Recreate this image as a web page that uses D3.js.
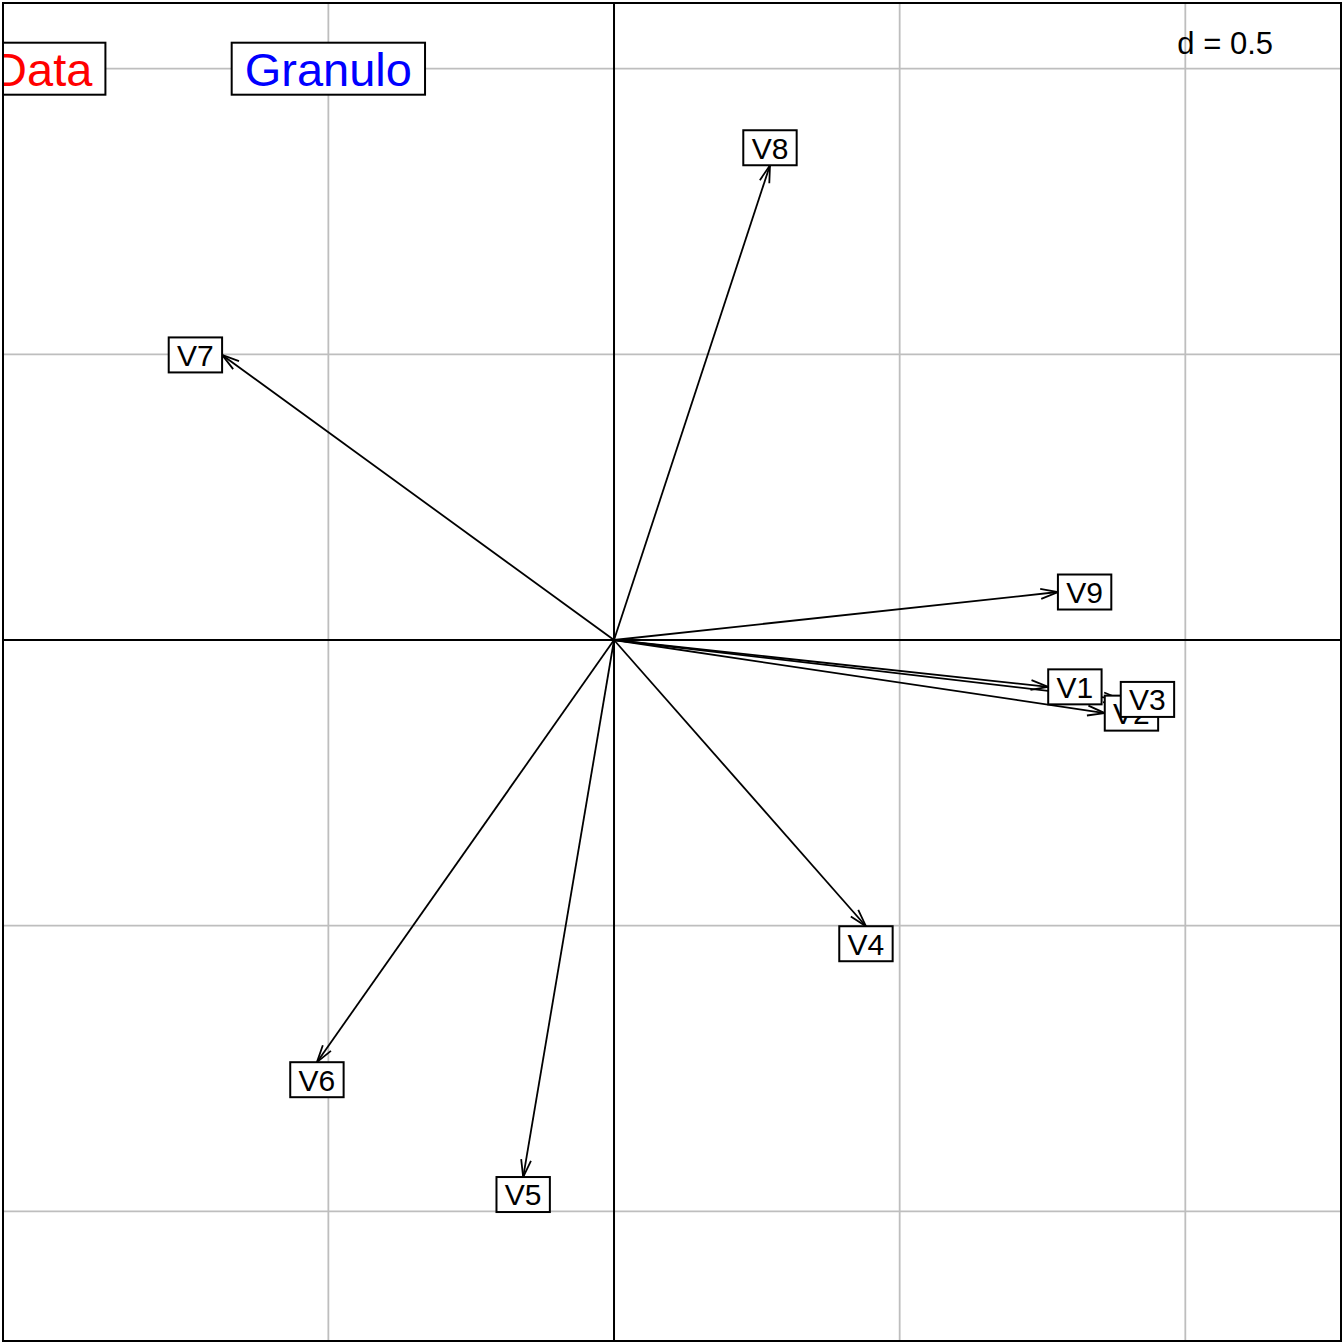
<!DOCTYPE html>
<html>
<head>
<meta charset="utf-8">
<script src="https://cdn.jsdelivr.net/npm/d3@7"></script>
<style>
  body { margin: 0; background: #fff; }
  svg { display: block; font-family: "Liberation Sans", Arial, sans-serif; }
</style>
</head>
<body>
<div id="chart"></div>
<script>
// variable arrows (coordinates on the two axes)
var varNames = ["V1", "V2", "V3", "V4", "V5", "V6", "V7", "V8", "V9"];
var axis1 = [0.760, 0.859, 0.887, 0.441, -0.159, -0.520, -0.686, 0.273, 0.777];
var axis2 = [-0.082, -0.128, -0.104, -0.501, -0.940, -0.739, 0.499, 0.831, 0.084];

// group labels at the top
var groupNames = ["Data", "Granulo"];
var groupX = [-1.0, -0.5];
var groupY = [1.0, 1.0];
var groupColors = ["red", "blue"];

// grid
var gridD = 0.5;
var xGrid = [-0.5, 0.5, 1.0];
var yGrid = [-1.0, -0.5, 0.5, 1.0];

var svgWidth = 1344;
var svgHeight = 1344;
var plot = { left: 3, top: 3, right: 1341, bottom: 1341 };

var svg = d3.select("#chart")
  .append("svg")
  .attr("width", svgWidth)
  .attr("height", svgHeight);

var xScale = d3.scaleLinear()
  .domain([-1.0695, 1.2725])
  .range([plot.left, plot.right]);

var yScale = d3.scaleLinear()
  .domain([-1.227, 1.115])
  .range([plot.bottom, plot.top]);

svg.append("clipPath")
  .attr("id", "clip")
  .append("rect")
  .attr("x", plot.left)
  .attr("y", plot.top)
  .attr("width", plot.right - plot.left)
  .attr("height", plot.bottom - plot.top);

var g = svg.append("g").attr("clip-path", "url(#clip)");

// grid lines
g.selectAll(".vgrid")
  .data(xGrid)
  .enter()
  .append("line")
  .attr("x1", d => xScale(d))
  .attr("x2", d => xScale(d))
  .attr("y1", plot.top)
  .attr("y2", plot.bottom)
  .attr("stroke", "#bebebe")
  .attr("stroke-width", 1.8);

g.selectAll(".hgrid")
  .data(yGrid)
  .enter()
  .append("line")
  .attr("x1", plot.left)
  .attr("x2", plot.right)
  .attr("y1", d => yScale(d))
  .attr("y2", d => yScale(d))
  .attr("stroke", "#bebebe")
  .attr("stroke-width", 1.8);

// "d = 0.5"
g.append("text")
  .attr("x", 1273)
  .attr("y", 54)
  .attr("text-anchor", "end")
  .attr("font-size", 31)
  .attr("fill", "black")
  .text("d = " + gridD);

// axes through origin
g.append("line")
  .attr("x1", xScale(0)).attr("x2", xScale(0))
  .attr("y1", plot.top).attr("y2", plot.bottom)
  .attr("stroke", "black").attr("stroke-width", 2);
g.append("line")
  .attr("x1", plot.left).attr("x2", plot.right)
  .attr("y1", yScale(0)).attr("y2", yScale(0))
  .attr("stroke", "black").attr("stroke-width", 2);

// group labels in boxes
groupNames.forEach(function (name, i) {
  var fs = 47;
  var cx = xScale(groupX[i]);
  var cy = yScale(groupY[i]);
  var t = g.append("text")
    .attr("x", cx)
    .attr("y", cy + 17)
    .attr("text-anchor", "middle")
    .attr("font-size", fs)
    .attr("fill", groupColors[i])
    .text(name);
  var w = t.node().getComputedTextLength() + 2 * 0.278 * fs;
  g.insert("rect", function () { return t.node(); })
    .attr("x", cx - w / 2)
    .attr("y", cy - 26)
    .attr("width", w)
    .attr("height", 52)
    .attr("fill", "white")
    .attr("stroke", "black")
    .attr("stroke-width", 2);
});

// arrows
var x0 = xScale(0), y0 = yScale(0);
var headLen = 18, headAng = 16 * Math.PI / 180;
var arrows = g.append("g");
varNames.forEach(function (name, i) {
  var x1 = xScale(axis1[i]), y1 = yScale(axis2[i]);
  var ang = Math.atan2(y1 - y0, x1 - x0);
  arrows.append("line")
    .attr("x1", x0).attr("y1", y0)
    .attr("x2", x1).attr("y2", y1)
    .attr("stroke", "black").attr("stroke-width", 1.8);
  var pts = [
    [x1 - headLen * Math.cos(ang - headAng), y1 - headLen * Math.sin(ang - headAng)],
    [x1, y1],
    [x1 - headLen * Math.cos(ang + headAng), y1 - headLen * Math.sin(ang + headAng)]
  ];
  arrows.append("path")
    .attr("d", d3.line()(pts))
    .attr("fill", "none")
    .attr("stroke", "black").attr("stroke-width", 1.8);
});

// variable labels (placed outside the arrow tip)
var labels = g.append("g");
varNames.forEach(function (name, i) {
  var fs = 30;
  var xr = axis1[i], yr = axis2[i];
  var px = xScale(xr), py = yScale(yr);
  var t = labels.append("text")
    .attr("text-anchor", "middle")
    .attr("font-size", fs)
    .attr("fill", "black")
    .text(name);
  var w = t.node().getComputedTextLength() + 2 * 0.278 * fs;
  var h = 35;
  var cx = px, cy = py;
  if (xr > yr && xr > -yr) cx = px + w / 2;
  else if (xr > yr && xr <= -yr) cy = py + h / 2;
  else if (xr <= yr && xr <= -yr) cx = px - w / 2;
  else cy = py - h / 2;
  t.attr("x", cx).attr("y", cy + 10.8);
  labels.insert("rect", function () { return t.node(); })
    .attr("x", cx - w / 2)
    .attr("y", cy - h / 2)
    .attr("width", w)
    .attr("height", h)
    .attr("fill", "white")
    .attr("stroke", "black")
    .attr("stroke-width", 2);
});

// frame
svg.append("rect")
  .attr("x", plot.left)
  .attr("y", plot.top)
  .attr("width", plot.right - plot.left)
  .attr("height", plot.bottom - plot.top)
  .attr("fill", "none")
  .attr("stroke", "black")
  .attr("stroke-width", 2);
</script>
</body>
</html>
